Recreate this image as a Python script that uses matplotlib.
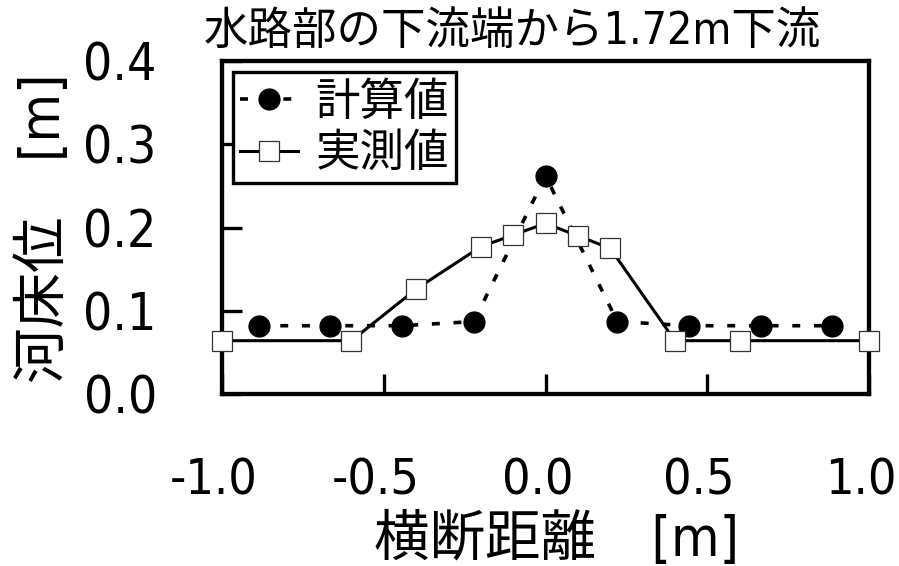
import matplotlib
matplotlib.use('Agg')
import matplotlib.pyplot as plt
import matplotlib.transforms as mtransforms

plt.rcParams['font.family'] = ['DejaVu Sans', 'Noto Sans CJK JP']
plt.rcParams['font.stretch'] = 'condensed'

# 計算値 (丸印, 破線)
x_calc = [-0.887, -0.665, -0.443, -0.222, 0.0, 0.222, 0.443, 0.665, 0.887]
y_calc = [0.082, 0.082, 0.082, 0.087, 0.262, 0.087, 0.082, 0.082, 0.082]

# 実測値 (四角, 実線)
x_obs = [-1.0, -0.6, -0.4, -0.2, -0.1, 0.0, 0.1, 0.2, 0.4, 0.6, 1.0]
y_obs = [0.064, 0.064, 0.126, 0.177, 0.191, 0.205, 0.190, 0.175, 0.064, 0.064, 0.064]

xticks = [-1.0, -0.5, 0.0, 0.5, 1.0]
yticks = [0.0, 0.1, 0.2, 0.3, 0.4]

titulo = '水路部の下流端から1.72m下流'
xlabel = '横断距離\u3000[m]'
ylabel = '河床位\u3000[m]'

fig = plt.figure(figsize=(8.99, 5.66), dpi=100)
ax = fig.add_axes([0.247, 0.304, 0.7196, 0.588])

ax.plot(x_calc, y_calc, linestyle=(0, (2.2, 3.8)), color='black', linewidth=2.6,
        marker='o', markersize=15, markerfacecolor='black', markeredgecolor='black',
        label='計算値', clip_on=False, zorder=3)
ax.plot(x_obs, y_obs, linestyle='-', color='black', linewidth=2.2,
        marker='s', markersize=15, markerfacecolor='white', markeredgecolor='#333333',
        markeredgewidth=0.9, label='実測値', clip_on=False, zorder=4)

ax.set_xlim(-1.0, 1.0)
ax.set_ylim(0.0, 0.4)
ax.set_xticks(xticks)
ax.set_yticks(yticks)
ax.set_xticklabels([f'{v:.1f}' for v in xticks])
ax.set_yticklabels([f'{v:.1f}' for v in yticks])

ax.tick_params(axis='x', direction='in', length=14.5, width=2.4, pad=45, labelsize=36)
ax.tick_params(axis='y', direction='in', length=14.5, width=2.4, pad=47, labelsize=37)
for s in ax.spines.values():
    s.set_linewidth(3.1)

# etiquetas del eje x un poco a la izquierda, como en el original
desplazamiento = mtransforms.ScaledTranslation(-8 / 100, 0, fig.dpi_scale_trans)
for lbl in ax.get_xticklabels():
    lbl.set_transform(lbl.get_transform() + desplazamiento)

leg = ax.legend(loc='upper left', frameon=True, fancybox=False,
                edgecolor='black', framealpha=1, borderaxespad=0.25,
                handlelength=1.3, handletextpad=0.4, labelspacing=0.12,
                borderpad=0.15, prop={'family': ['Noto Sans CJK JP'], 'size': 32})
leg.get_frame().set_linewidth(2.4)

fig.text(512 / 899, 1 - 31 / 566, titulo, ha='center', va='center', fontsize=32)
fig.text(557 / 899, 1 - 540 / 566, xlabel, ha='center', va='center', fontsize=40)
fig.text(45 / 899, 1 - 228 / 566, ylabel, ha='center', va='center', fontsize=40, rotation=90)

fig.savefig('out.png', dpi=100)
